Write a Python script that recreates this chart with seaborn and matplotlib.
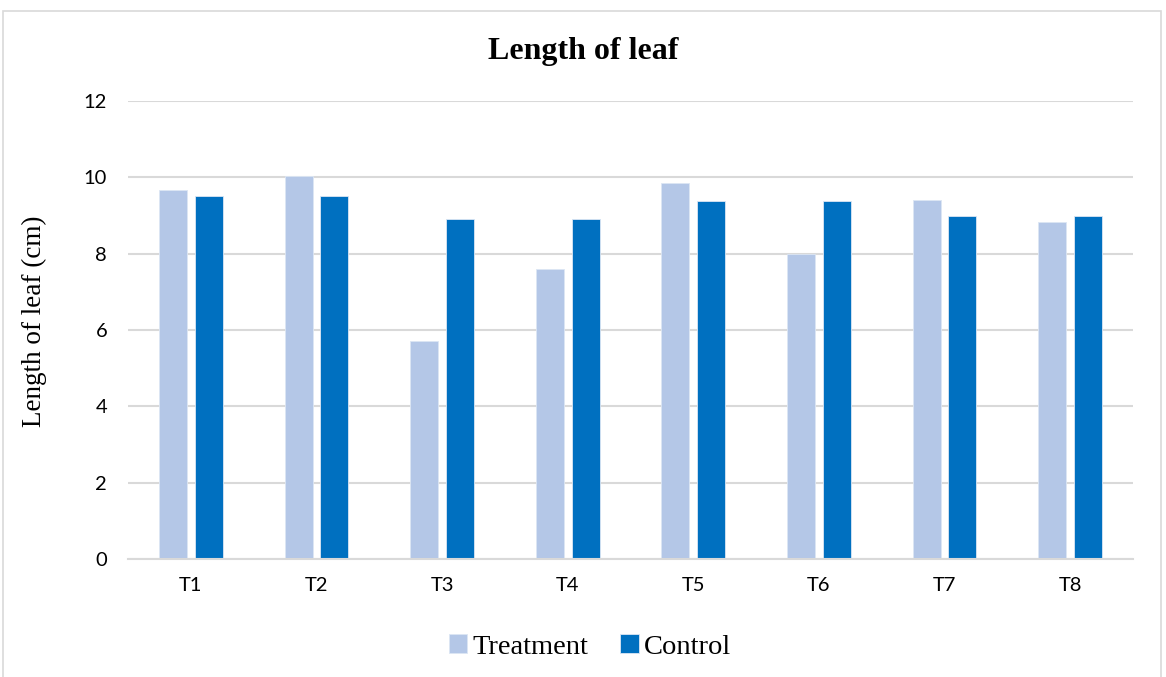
import matplotlib
matplotlib.use("Agg")
import matplotlib.pyplot as plt
from matplotlib.patches import Rectangle
import seaborn as sns
import pandas as pd

categories = ["T1", "T2", "T3", "T4", "T5", "T6", "T7", "T8"]
treatment = [9.68, 10.04, 5.71, 7.61, 9.84, 7.98, 9.41, 8.84]
control = [9.5, 9.5, 8.9, 8.9, 9.38, 9.38, 9.0, 9.0]
series_names = ["Treatment", "Control"]
colors = ["#B4C7E7", "#0070C0"]
y_ticks = [0, 2, 4, 6, 8, 10, 12]

df = pd.DataFrame({
    "Trial": categories * 2,
    "Length": treatment + control,
    "Group": [series_names[0]] * len(categories) + [series_names[1]] * len(categories),
})

sns.set_style("white")
plt.rcParams["font.family"] = ["Lato", "DejaVu Sans"]
plt.rcParams["text.color"] = "black"

fig = plt.figure(figsize=(11.66, 6.77), dpi=100)
ax = fig.add_axes([0.1098, 0.1743, 0.8619, 0.6765])

sns.barplot(data=df, x="Trial", y="Length", hue="Group", palette=colors,
            width=0.568, gap=0.215, ax=ax, saturation=1, legend=True,
            edgecolor="#DCE6F4", linewidth=0.6)

ax.set_ylim(0, 12)
ax.set_xlim(-0.5, len(categories) - 0.5)
ax.set_yticks(y_ticks)
ax.set_yticklabels([str(t) for t in y_ticks])
ax.yaxis.grid(True, color="#D9D9D9", linewidth=1.5)
ax.set_axisbelow(True)
for s in ["top", "right", "left"]:
    ax.spines[s].set_visible(False)
ax.spines["bottom"].set_color("#D9D9D9")
ax.spines["bottom"].set_linewidth(1.5)
ax.tick_params(axis="both", length=0, labelsize=14.5, colors="#000000")
ax.tick_params(axis="x", pad=13)
ax.tick_params(axis="y", pad=15)

ax.set_xlabel("")
ax.set_ylabel("Length of leaf (cm)", family="Liberation Serif", fontsize=19.5, color="black")
ax.yaxis.set_label_coords(-0.0806, 0.52)

fig.text(0.5, 0.924, "Length of leaf", family="Liberation Serif", fontweight="bold",
         fontsize=23, ha="center", va="center", color="black")

handles, labels = ax.get_legend_handles_labels()
ax.legend_.remove()
fig.legend(handles, labels, loc="center", bbox_to_anchor=(0.506, 0.044), ncol=2,
           frameon=False, prop={"family": "Liberation Serif", "size": 20.5},
           handlelength=0.65, handleheight=0.65, handletextpad=0.2, columnspacing=1.1)

fig.patches.append(Rectangle((0.003, -0.01), 0.993, 0.994, transform=fig.transFigure,
                             fill=False, edgecolor="#D9D9D9", linewidth=1.2))

fig.savefig("out.png", dpi=100)
